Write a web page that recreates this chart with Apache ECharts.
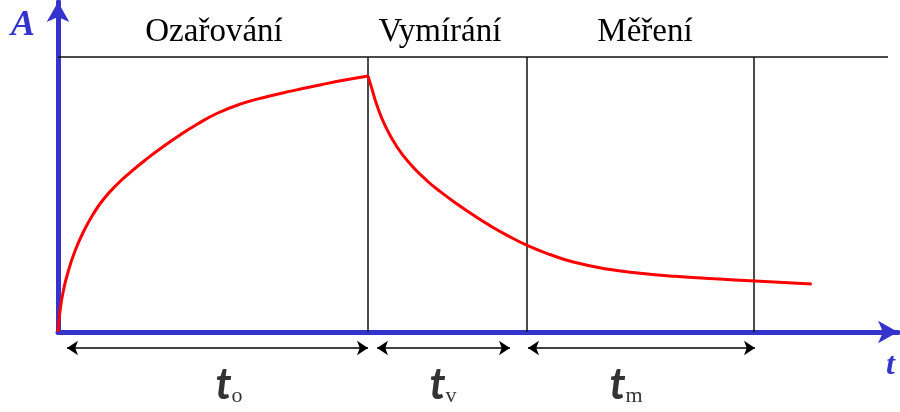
<!DOCTYPE html>
<html>
<head>
<meta charset="utf-8">
<script src="https://cdn.jsdelivr.net/npm/echarts@6/dist/echarts.min.js"></script>
<style>
  html, body { margin: 0; padding: 0; background: #fff; }
  #chart { width: 900px; height: 412px; }
</style>
</head>
<body>
<div id="chart"></div>
<script>
// activity during irradiation (t, A)
const riseT = [0, 0.2, 0.53, 1.03, 1.7, 2.53, 3.53, 4.53, 5.87, 7.2, 8.87, 10.53, 12.2, 13.87, 15.87, 18.2, 20.87, 23.53, 26.2, 28.53, 31];
const riseA = [0, 2.1, 4.1, 6.1, 8.1, 10.0, 11.8, 13.25, 14.72, 15.94, 17.31, 18.55, 19.7, 20.75, 21.85, 22.78, 23.53, 24.14, 24.7, 25.17, 25.61];
// activity after irradiation
const decayT = [31, 31.37, 31.87, 32.7, 33.87, 35.2, 36.87, 38.2, 39.87, 41.53, 43.2, 44.87, 47.03, 49.2, 51.53, 54.87, 58.2, 61.7, 65.7, 69.7, 75.37];
const decayA = [25.61, 24.39, 22.74, 20.66, 18.55, 16.82, 15.15, 14.06, 12.82, 11.69, 10.64, 9.69, 8.61, 7.75, 7.0, 6.3, 5.88, 5.57, 5.32, 5.1, 4.8];

// phase boundaries and interval arrows
const phaseEnds = [31, 46.9, 69.6];
const topLevel = 27.5;
const topLineEnd = 83;
const spanStart = [0.9, 31.9, 47];
const spanEnd = [31, 45.2, 69.7];

// texts
const phaseNames = ['Ozařování', 'Vymírání', 'Měření'];
const intervalSubs = ['o', 'v', 'm'];

const chart = echarts.init(document.getElementById('chart'));

// label positions (data coords)
const phaseLabelT = [15.6, 38.2, 58.7];
const intervalLabelT = [17.1, 38.5, 56.8];
const arrowLevel = -1.6;

const guideLines = phaseEnds.map(t => ({ coords: [[t, 0], [t, topLevel]] }));
guideLines.push({ coords: [[0, topLevel], [topLineEnd, topLevel]] });

const spans = spanStart.map((s, i) => ({ coords: [[s, arrowLevel], [spanEnd[i], arrowLevel]] }));

const blue = '#3434cc';

const option = {
    animation: false,
    grid: { left: 58, right: 2, top: 2, bottom: 80 },
    xAxis: {
        type: 'value',
        min: 0,
        max: 84,
        name: 't',
        nameLocation: 'end',
        nameGap: -12,
        nameTextStyle: {
            color: blue, fontSize: 32, fontStyle: 'italic', fontWeight: 'bold',
            fontFamily: 'Liberation Serif', verticalAlign: 'top', padding: [18, 0, 0, 0]
        },
        axisLine: {
            onZero: true,
            symbol: ['none', 'arrow'],
            symbolSize: [17, 20],
            lineStyle: { color: blue, width: 5 }
        },
        axisTick: { show: false },
        axisLabel: { show: false },
        splitLine: { show: false }
    },
    yAxis: {
        type: 'value',
        min: 0,
        max: 33,
        name: 'A',
        nameLocation: 'end',
        nameGap: -42,
        nameTextStyle: {
            color: blue, fontSize: 36, fontStyle: 'italic', fontWeight: 'bold',
            fontFamily: 'Liberation Serif', padding: [0, 70, 0, 0]
        },
        axisLine: {
            show: true,
            symbol: ['none', 'arrow'],
            symbolSize: [17, 20],
            lineStyle: { color: blue, width: 5 }
        },
        axisTick: { show: false },
        axisLabel: { show: false },
        splitLine: { show: false }
    },
    series: [
        {
            type: 'lines',
            coordinateSystem: 'cartesian2d',
            clip: false,
            silent: true,
            lineStyle: { color: '#111', width: 1.5, opacity: 1 },
            data: guideLines,
            z: 1
        },
        {
            type: 'lines',
            coordinateSystem: 'cartesian2d',
            clip: false,
            silent: true,
            symbol: ['arrow', 'arrow'],
            symbolSize: 11,
            lineStyle: { color: '#000', width: 1.5, opacity: 1 },
            data: spans,
            z: 2
        },
        {
            type: 'line',
            data: riseT.map((t, i) => [t, riseA[i]]),
            smooth: 0.5,
            showSymbol: false,
            lineStyle: { color: '#ff0000', width: 3 },
            z: 5
        },
        {
            type: 'line',
            data: decayT.map((t, i) => [t, decayA[i]]),
            smooth: 0.5,
            showSymbol: false,
            lineStyle: { color: '#ff0000', width: 3 },
            z: 5
        },
        {
            type: 'scatter',
            clip: false,
            silent: true,
            symbolSize: 0,
            data: phaseNames.map((n, i) => ({ value: [phaseLabelT[i], 28.3], name: n })),
            label: {
                show: true,
                position: 'top',
                distance: 0,
                formatter: p => p.name,
                color: '#000',
                opacity: 1,
                textBorderWidth: 0,
                fontSize: 33,
                fontFamily: 'Liberation Serif'
            }
        },
        {
            type: 'scatter',
            clip: false,
            silent: true,
            symbolSize: 0,
            data: intervalSubs.map((s, i) => ({ value: [intervalLabelT[i], -5.3], name: s })),
            label: {
                show: true,
                position: 'inside',
                formatter: p => '{t|t}{s|' + p.name + '}',
                rich: {
                    t: { fontSize: 44, fontStyle: 'italic', fontWeight: 'bold', fontFamily: 'Lato', color: '#000', lineHeight: 44, textBorderWidth: 0 },
                    s: { fontSize: 22, fontFamily: 'Liberation Serif', color: '#000', verticalAlign: 'bottom', lineHeight: 30, textBorderWidth: 0 }
                }
            }
        }
    ]
};

chart.setOption(option);
</script>
</body>
</html>
